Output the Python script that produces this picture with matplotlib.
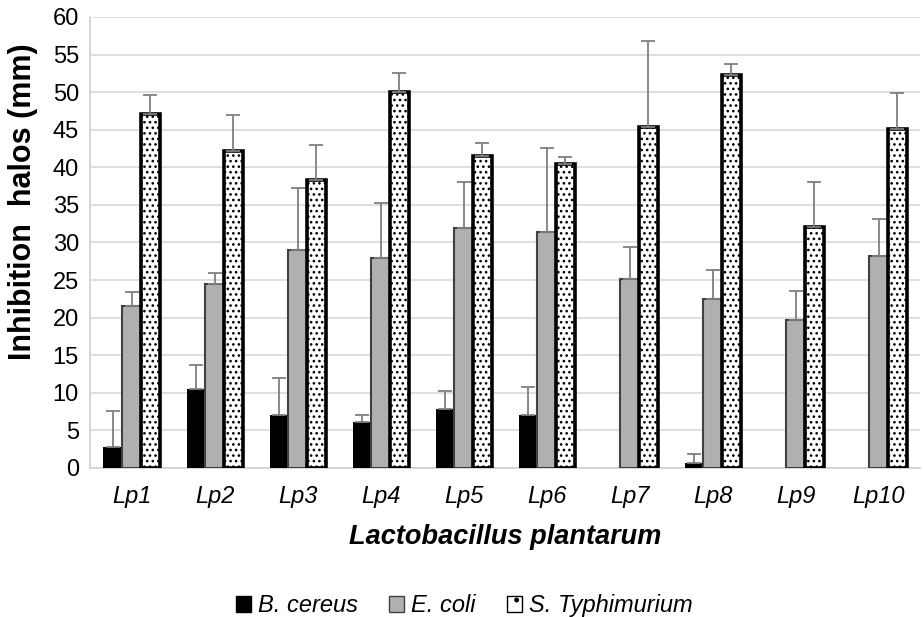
import numpy as np
import matplotlib
matplotlib.use("Agg")
import matplotlib.pyplot as plt
from matplotlib.patches import Patch

plt.rcParams["font.family"] = ["Liberation Sans", "DejaVu Sans"]
plt.rcParams["hatch.linewidth"] = 1.1

# ── Data ─────────────────────────────────────────────────────────────────────
strains = ["Lp1", "Lp2", "Lp3", "Lp4", "Lp5", "Lp6", "Lp7", "Lp8", "Lp9", "Lp10"]
b_cereus = [2.8, 10.5, 7.0, 6.1, 7.8, 7.1, 0.0, 0.7, 0.0, 0.0]
b_cereus_err = [4.8, 3.2, 5.0, 1.0, 2.5, 3.7, 0.0, 1.2, 0.0, 0.0]
e_coli = [21.5, 24.5, 29.0, 28.0, 31.9, 31.4, 25.1, 22.5, 19.7, 28.2]
e_coli_err = [1.9, 1.4, 8.2, 7.3, 6.1, 11.2, 4.3, 3.9, 3.9, 4.9]
s_typhi = [47.1, 42.2, 38.3, 50.0, 41.5, 40.4, 45.4, 52.3, 32.0, 45.1]
s_typhi_err = [2.5, 4.8, 4.7, 2.6, 1.7, 1.0, 11.4, 1.5, 6.0, 4.8]
series_names = ["B. cereus", "E. coli", "S. Typhimurium"]

fig = plt.figure(figsize=(9.23, 6.17), dpi=100)
ax = fig.add_axes([0.0975, 0.2415, 0.8995, 0.731])

x = np.arange(len(strains))
w = 0.225
err_kw = dict(ecolor="#7f7f7f", elinewidth=1.3, capsize=5, capthick=1.3,
              ls="none", zorder=4)

series = [
    (x - w, b_cereus, b_cereus_err, dict(color="black", lw=0)),
    (x, e_coli, e_coli_err, dict(color="#b0b0b0", edgecolor="#404040", lw=1.5)),
    (x + w, s_typhi, s_typhi_err,
     dict(color="white", edgecolor="black", lw=2.6, hatch="...")),
]
for xs, vals, errs, style in series:
    ax.bar(xs, vals, w, zorder=3, **style)
    # Excel-style "plus" error bars, none where there is no bar
    vals, errs = np.asarray(vals), np.asarray(errs)
    keep = errs > 0
    ax.errorbar(xs[keep], vals[keep], yerr=[np.zeros(keep.sum()), errs[keep]],
                **err_kw)

ax.set_xlim(-0.5, len(strains) - 0.5)
ax.set_ylim(0, 60)
ax.set_yticks(np.arange(0, 61, 5))
ax.yaxis.grid(True, color="#d9d9d9", lw=1.2, zorder=0)
ax.set_axisbelow(True)
for s in ["top", "right"]:
    ax.spines[s].set_visible(False)
for s in ["left", "bottom"]:
    ax.spines[s].set_color("#d0d0d0")
    ax.spines[s].set_linewidth(1.2)
ax.tick_params(axis="both", length=0, labelsize=17, pad=8)
ax.set_xticks(x)
ax.set_xticklabels(strains, style="italic")
ax.tick_params(axis="x", pad=12)

ax.set_ylabel("Inhibition  halos (mm)", fontsize=22, fontweight="bold")
ax.yaxis.set_label_coords(-0.063, 0.59)
ax.set_xlabel("Lactobacillus plantarum", fontsize=19.5, fontweight="bold",
              style="italic", labelpad=12)

handles = [
    Patch(facecolor="black", edgecolor="black"),
    Patch(facecolor="#b0b0b0", edgecolor="#404040"),
    Patch(facecolor="white", edgecolor="black", hatch="."),
]
fig.legend(handles, series_names, loc="center", bbox_to_anchor=(0.503, 0.018),
           ncol=3, frameon=False, handlelength=0.65, handleheight=0.65,
           handletextpad=0.3, columnspacing=1.3,
           prop=dict(size=17, style="italic"))

fig.savefig("out.png", dpi=100)
